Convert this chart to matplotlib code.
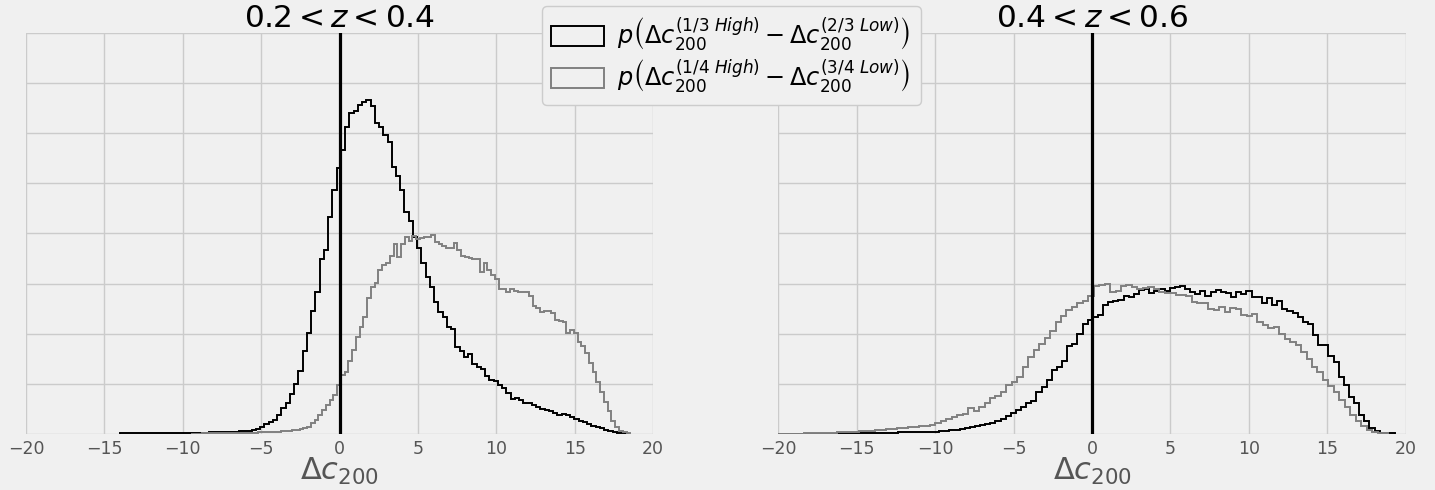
import numpy as np
import matplotlib
matplotlib.use("Agg")
import matplotlib.pyplot as plt

# ---------------- data ----------------
# Left panel (0.2 < z < 0.4)
left_black_range = (-14.0, 18.5)
left_black = [
    0.01, 0.01, 0.01, 0.01, 0.01, 0.01, 0.01, 0.01, 0.01, 0.01, 0.01, 0.015, 0.015, 0.015, 0.02,
    0.02, 0.02, 0.02, 0.02, 0.025, 0.025, 0.03, 0.03, 0.03, 0.035, 0.04, 0.04, 0.045, 0.05,
    0.055, 0.065, 0.08, 0.10, 0.13, 0.19, 0.24, 0.28, 0.38, 0.51, 0.62, 0.80, 1.00, 1.26,
    1.66, 2.01, 2.46, 2.84, 3.49, 3.67, 4.33, 4.87, 5.30, 5.67, 6.13, 6.41, 6.45, 6.57,
    6.62, 6.66, 6.55, 6.20, 6.12, 5.97, 5.83, 5.32, 5.15, 4.86, 4.42, 4.24, 3.94, 3.71,
    3.42, 3.14, 2.94, 2.64, 2.44, 2.33, 2.14, 2.09, 1.74, 1.66, 1.54, 1.59, 1.40, 1.33,
    1.29, 1.16, 1.08, 1.06, 0.98, 0.91, 0.81, 0.69, 0.71, 0.68, 0.61, 0.62, 0.57, 0.53,
    0.50, 0.48, 0.45, 0.41, 0.38, 0.39, 0.38, 0.33, 0.29, 0.25, 0.23, 0.19, 0.16, 0.13,
    0.11, 0.08, 0.05, 0.03, 0.015, 0.01, 0.005,
]
left_grey_range = (-9.5, 18.55)
left_grey = [
    0.005, 0.005, 0.005, 0.01, 0.01, 0.01, 0.01, 0.01, 0.015, 0.015, 0.015, 0.015, 0.02,
    0.02, 0.02, 0.02, 0.025, 0.025, 0.03, 0.03, 0.03, 0.035, 0.04, 0.045, 0.05, 0.055,
    0.06, 0.07, 0.08, 0.09, 0.11,
    0.13, 0.21, 0.28, 0.38, 0.48, 0.58, 0.68, 0.78, 0.98, 1.18, 1.24, 1.46, 1.68, 1.93,
    2.13, 2.34, 2.72,
    2.94, 3.02, 3.27, 3.37, 3.41, 3.55, 3.79, 3.53, 3.79, 3.94, 3.86, 3.95, 3.89, 3.91,
    3.93, 3.94, 3.97, 3.84, 3.79, 3.75, 3.71, 3.72, 3.81, 3.67, 3.55, 3.54, 3.51, 3.49,
    3.50, 3.24, 3.42, 3.27, 3.17, 3.09,
    2.89, 2.89, 2.84, 2.89, 2.86, 2.84, 2.83, 2.83, 2.75, 2.55, 2.51, 2.44, 2.45, 2.46,
    2.41, 2.28, 2.25, 2.23, 2.02, 2.08, 2.02, 1.84, 1.76, 1.61, 1.42, 1.24, 1.04, 0.84,
    0.64, 0.45, 0.25, 0.13, 0.06, 0.03, 0.01,
]

# Right panel (0.4 < z < 0.6)
right_black_range = (-20.2, 19.32)
right_black = [
    0.002, 0.002, 0.002, 0.002, 0.002, 0.002, 0.005, 0.005, 0.005, 0.005, 0.005, 0.005,
    0.01, 0.01, 0.01, 0.01, 0.01, 0.01, 0.015, 0.015, 0.02, 0.02, 0.025, 0.025,
    0.03, 0.03, 0.03, 0.035, 0.035, 0.04,
    0.04, 0.045, 0.05, 0.06, 0.07, 0.08, 0.10, 0.12, 0.14, 0.15, 0.17, 0.19, 0.22, 0.25,
    0.30, 0.35, 0.41, 0.47, 0.53, 0.61, 0.65, 0.84, 0.94, 1.08, 1.28, 1.34, 1.46, 1.76,
    1.80, 2.00, 2.20, 2.28,
    2.34, 2.38, 2.57, 2.63, 2.66, 2.67, 2.75, 2.74, 2.79, 2.87, 2.89, 2.82, 2.86, 2.89,
    2.85, 2.91, 2.93, 2.95, 2.89, 2.84, 2.79, 2.86, 2.75, 2.84, 2.87, 2.83, 2.81, 2.74,
    2.84, 2.79, 2.86,
    2.74, 2.73, 2.61, 2.71, 2.57, 2.66, 2.49, 2.46, 2.42, 2.33, 2.24, 2.20, 1.98, 1.78,
    1.77, 1.56, 1.44, 1.14, 0.98, 0.74, 0.62, 0.38, 0.25, 0.12, 0.05, 0.02, 0.02, 0.01,
]
right_grey_range = (-20.77, 18.9)
right_grey = [
    0.002, 0.002, 0.003, 0.004, 0.005, 0.006, 0.008, 0.01, 0.012, 0.015, 0.018, 0.02,
    0.025, 0.03, 0.035, 0.04, 0.045, 0.05, 0.055, 0.06, 0.07, 0.08, 0.09, 0.10, 0.11,
    0.12, 0.13, 0.14, 0.15, 0.16,
    0.18, 0.21, 0.25, 0.29, 0.33, 0.38, 0.40, 0.51, 0.45, 0.54, 0.62, 0.71, 0.76, 0.83,
    0.98, 1.04, 1.14, 1.33, 1.53, 1.68, 1.80, 1.91, 2.06, 2.24, 2.35, 2.47, 2.53, 2.61,
    2.66, 2.75, 2.96, 2.97, 2.99, 2.84, 2.86, 2.95, 2.97, 2.93, 2.89, 2.91, 2.93, 2.89,
    2.84, 2.82, 2.81, 2.77, 2.77, 2.75, 2.64, 2.62, 2.61, 2.49, 2.47, 2.54, 2.44, 2.51,
    2.49, 2.38,
    2.35, 2.39, 2.24, 2.18, 2.11, 2.13, 2.00, 1.89, 1.84, 1.78, 1.63, 1.49, 1.33, 1.24,
    1.08, 0.96, 0.83, 0.68, 0.53, 0.38, 0.25, 0.15, 0.08, 0.04, 0.02, 0.01,
]

titles = [r"$0.2 < z < 0.4$", r"$0.4 < z < 0.6$"]
labels = [r"$p\left(\Delta c_{200}^{(1/3\ High)} - \Delta c_{200}^{(2/3\ Low)}\right)$",
          r"$p\left(\Delta c_{200}^{(1/4\ High)} - \Delta c_{200}^{(3/4\ Low)}\right)$"]
xticks = [-20, -15, -10, -5, 0, 5, 10, 15, 20]
yticks = [0, 1, 2, 3, 4, 5, 6, 7, 8]

# ---------------- style ----------------
BG = "#f0f0f0"
GRID = "#cbcbcb"
plt.rcParams["font.family"] = ["DejaVu Sans"]
plt.rcParams["mathtext.fontset"] = "dejavusans"

fig = plt.figure(figsize=(14.35, 4.9), dpi=100, facecolor=BG)
W, H = 1435.0, 490.0
ax_l = fig.add_axes([26 / W, 1 - 434 / H, 627 / W, 401 / H])
ax_r = fig.add_axes([778.3 / W, 1 - 434 / H, 627.4 / W, 401 / H])


def hist_step(ax, vals, rng, color, label=None):
    vals = np.asarray(vals, dtype=float)
    edges = np.linspace(rng[0], rng[1], len(vals) + 1)
    centers = 0.5 * (edges[:-1] + edges[1:])
    _, _, patches = ax.hist(centers, bins=edges, weights=vals, histtype="step",
                            color=color, lw=1.4, label=label)
    return patches[0]


handles = []
for ax, (bv, br, gv, gr), title in zip(
        [ax_l, ax_r],
        [(left_black, left_black_range, left_grey, left_grey_range),
         (right_black, right_black_range, right_grey, right_grey_range)],
        titles):
    ax.set_facecolor(BG)
    hb = hist_step(ax, bv, br, "black", labels[0])
    hg = hist_step(ax, gv, gr, "#808080", labels[1])
    if not handles:
        handles = [hb, hg]
    ax.axvline(0, color="black", lw=2.3, zorder=3)
    ax.set_xlim(-20, 20)
    ax.set_ylim(0, 8)
    ax.set_xticks(xticks)
    ax.set_yticks(yticks)
    ax.set_yticklabels([])
    ax.tick_params(axis="both", length=0, labelsize=12.5, labelcolor="#555555", pad=4)
    ax.grid(True, color=GRID, lw=1.0)
    ax.set_axisbelow(True)
    for s in ax.spines.values():
        s.set_visible(False)
    ax.set_title(title, fontsize=22.5, pad=3)
    ax.set_xlabel(r"$\Delta c_{200}$", fontsize=22, color="#555555", labelpad=-1)

leg = fig.legend(handles, labels, loc="upper center", bbox_to_anchor=(0.5095, 1.012),
                 fontsize=17.3, frameon=True, fancybox=True, facecolor=BG,
                 edgecolor="#cccccc", framealpha=1.0, handlelength=2.2, handleheight=0.9,
                 borderpad=0.4, labelspacing=0.2, handletextpad=0.55)

fig.savefig("out.png", dpi=100, facecolor=BG)
